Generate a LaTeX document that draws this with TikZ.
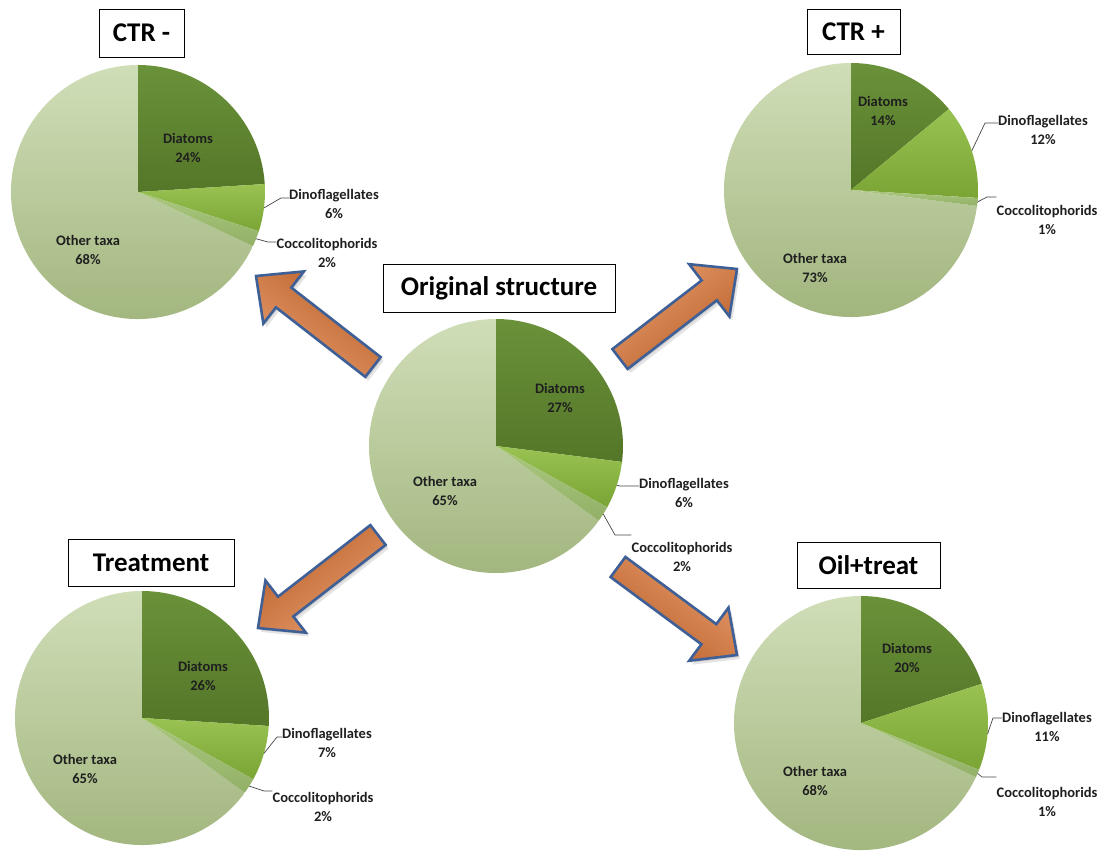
\documentclass[tikz,border=0pt]{standalone}
\usepackage{fontspec}
\setmainfont{Carlito}
\usetikzlibrary{calc}
\definecolor{diatT}{RGB}{106,146,58}
\definecolor{diatB}{RGB}{84,118,40}
\definecolor{dinoT}{RGB}{152,194,82}
\definecolor{dinoB}{RGB}{122,165,52}
\definecolor{coccT}{RGB}{172,200,128}
\definecolor{coccB}{RGB}{146,176,102}
\definecolor{othT}{RGB}{208,222,184}
\definecolor{othB}{RGB}{160,180,124}
\definecolor{arrEdge}{RGB}{62,96,150}
\definecolor{arrDark}{RGB}{186,96,42}
\definecolor{arrMid}{RGB}{208,122,66}
\definecolor{arrLight}{RGB}{230,156,108}
\definecolor{leadcol}{RGB}{70,70,70}
\newcommand\pieR{127pt}
\newcommand\drawpie[4]{%
 \pgfmathsetmacro\pieA{90-3.6*#2}%
 \pgfmathsetmacro\pieB{\pieA-3.6*#3}%
 \pgfmathsetmacro\pieC{\pieB-3.6*#4}%
 \shade[top color=othT,bottom color=othB] (#1) -- ++(\pieC:\pieR) arc[start angle=\pieC,end angle=-270,radius=\pieR] -- cycle;
 \shade[top color=diatT,bottom color=diatB] (#1) -- ++(90:\pieR) arc[start angle=90,end angle=\pieA,radius=\pieR] -- cycle;
 \shade[top color=dinoT,bottom color=dinoB] (#1) -- ++(\pieA:\pieR) arc[start angle=\pieA,end angle=\pieB,radius=\pieR] -- cycle;
 \shade[top color=coccT,bottom color=coccB] (#1) -- ++(\pieB:\pieR) arc[start angle=\pieB,end angle=\pieC,radius=\pieR] -- cycle;
}
\newcommand\blkarrow[3]{%
 \coordinate (hb) at ($(#2)!35pt!(#1)$);
 \coordinate (s1) at ($(#1)!12.5pt!90:(#2)$);
 \coordinate (s2) at ($(hb)!12.5pt!90:(#2)$);
 \coordinate (s3) at ($(hb)!33pt!90:(#2)$);
 \coordinate (s4) at ($(hb)!33pt!-90:(#2)$);
 \coordinate (s5) at ($(hb)!12.5pt!-90:(#2)$);
 \coordinate (s6) at ($(#1)!12.5pt!-90:(#2)$);
 \begin{scope}[transform canvas={shift={(3pt,-4pt)}}]
  \fill[black,opacity=.10] (s1)--(s2)--(s3)--(#2)--(s4)--(s5)--(s6)--cycle;
 \end{scope}
 \begin{scope}[transform canvas={shift={(1.5pt,-2pt)}}]
  \fill[black,opacity=.10] (s1)--(s2)--(s3)--(#2)--(s4)--(s5)--(s6)--cycle;
 \end{scope}
 \shadedraw[arrowst,shading angle=#3] (s1)--(s2)--(s3)--(#2)--(s4)--(s5)--(s6)--cycle;
}
\begin{document}
\begin{tikzpicture}[x=1pt,y=-1pt,
  lab/.style={align=center,inner sep=0pt,text=black!88,font=\bfseries\fontsize{14.5}{19}\selectfont},
  titlebox/.style={draw=black,line width=0.8pt,fill=white,inner sep=0pt,font=\bfseries\fontsize{27}{30}\selectfont},
  leadst/.style={draw=leadcol,line width=0.7pt},
  arrowst/.style={draw=arrEdge,line width=2.6pt,line join=miter,top color=arrLight,middle color=arrMid,bottom color=arrDark}]
\useasboundingbox (0,0) rectangle (1109,851);
\fill[white] (0,0) rectangle (1109,851);

% pie centres
\coordinate (pCm) at (138,192);
\coordinate (pCp) at (851,190);
\coordinate (pOr) at (496,446);
\coordinate (pTr) at (142,718);
\coordinate (pOi) at (861,723);

\drawpie{pCm}{24}{6}{2}
\drawpie{pCp}{14}{12}{1}
\drawpie{pOr}{27}{6}{2}
\drawpie{pTr}{26}{7}{2}
\drawpie{pOi}{20}{11}{1}

% titles
\node[titlebox,minimum width=85pt,minimum height=48pt] (tCm) at (141.5,33) {CTR -};
\node[titlebox,minimum width=93pt,minimum height=45pt] (tCp) at (853.5,31.5) {CTR +};
\node[titlebox,minimum width=232pt,minimum height=48pt] (tOr) at (499,288) {Original structure};
\node[titlebox,minimum width=166pt,minimum height=47pt] (tTr) at (151,562.5) {Treatment};
\node[titlebox,minimum width=143pt,minimum height=46pt] (tOi) at (868.5,565) {Oil+treat};

% labels CTR-
\node[lab] (dCm) at (188,147.5) {Diatoms\\24\%};
\node[lab] (oCm) at (88,250) {Other taxa\\68\%};
\node[lab] (nCm) at (334,203.5) {Dinoflagellates\\6\%};
\node[lab] (cCm) at (327,252.5) {Coccolitophorids\\2\%};
\coordinate (bnCm) at (281,198);
\coordinate (bcCm) at (268,242);
\draw[leadst] ($(pCm)+(-7.2:\pieR)$) -- (bnCm) -- (bnCm -| nCm.west);
\draw[leadst] ($(pCm)+(-21.6:\pieR)$) -- (bcCm) -- (bcCm -| cCm.west);

% labels Original
\node[lab] (dOr) at (560,397.5) {Diatoms\\27\%};
\node[lab] (oOr) at (445,491) {Other taxa\\65\%};
\node[lab] (nOr) at (684,493) {Dinoflagellates\\6\%};
\node[lab] (cOr) at (682,557) {Coccolitophorids\\2\%};
\coordinate (bnOr) at (620,486);
\coordinate (bcOr) at (615,535);
\draw[leadst] ($(pOr)+(-18:\pieR)$) -- (bnOr) -- (bnOr -| nOr.west);
\draw[leadst] ($(pOr)+(-32.4:\pieR)$) -- (bcOr) -- (bcOr -| cOr.west);

% labels CTR+
\node[lab] (dCp) at (883,111) {Diatoms\\14\%};
\node[lab] (oCp) at (815,268) {Other taxa\\73\%};
\node[lab] (nCp) at (1043,130) {Dinoflagellates\\12\%};
\node[lab] (cCp) at (1047,220) {Coccolitophorids\\1\%};
\coordinate (bnCp) at (985,123);
\coordinate (bcCp) at (987,197);
\draw[leadst] ($(pCp)+(18:\pieR)$) -- (bnCp) -- (bnCp -| nCp.west);
\draw[leadst] ($(pCp)+(-5.4:\pieR)$) -- (bcCp) -- (bcCp -| cCp.west);

% labels Treatment
\node[lab] (dTr) at (203,676) {Diatoms\\26\%};
\node[lab] (oTr) at (85,769) {Other taxa\\65\%};
\node[lab] (nTr) at (327,742.5) {Dinoflagellates\\7\%};
\node[lab] (cTr) at (323,807) {Coccolitophorids\\2\%};
\coordinate (bnTr) at (277,737);
\coordinate (bcTr) at (264,791);
\draw[leadst] ($(pTr)+(-16.2:\pieR)$) -- (bnTr) -- (bnTr -| nTr.west);
\draw[leadst] ($(pTr)+(-32.4:\pieR)$) -- (bcTr) -- (bcTr -| cTr.west);

% labels Oil+treat
\node[lab] (dOi) at (907,657.5) {Diatoms\\20\%};
\node[lab] (oOi) at (815,781) {Other taxa\\68\%};
\node[lab] (nOi) at (1047,726.5) {Dinoflagellates\\11\%};
\node[lab] (cOi) at (1047,802) {Coccolitophorids\\1\%};
\coordinate (bnOi) at (993,718);
\coordinate (bcOi) at (982,777);
\draw[leadst] ($(pOi)+(-5:\pieR)$) -- (bnOi) -- (bnOi -| nOi.west);
\draw[leadst] ($(pOi)+(-23.4:\pieR)$) -- (bcOi) -- (bcOi -| cOi.west);

% arrows
\coordinate (aNWt) at (373,367); \coordinate (aNWh) at (256,276);
\coordinate (aNEt) at (620,359); \coordinate (aNEh) at (737,269);
\coordinate (aSWt) at (378,535); \coordinate (aSWh) at (258,628);
\coordinate (aSEt) at (618,567); \coordinate (aSEh) at (737,655);
\blkarrow{aNWt}{aNWh}{142.7}
\blkarrow{aNEt}{aNEh}{37.3}
\blkarrow{aSWt}{aSWh}{217.8}
\blkarrow{aSEt}{aSEh}{-36.5}
\end{tikzpicture}
\end{document}
